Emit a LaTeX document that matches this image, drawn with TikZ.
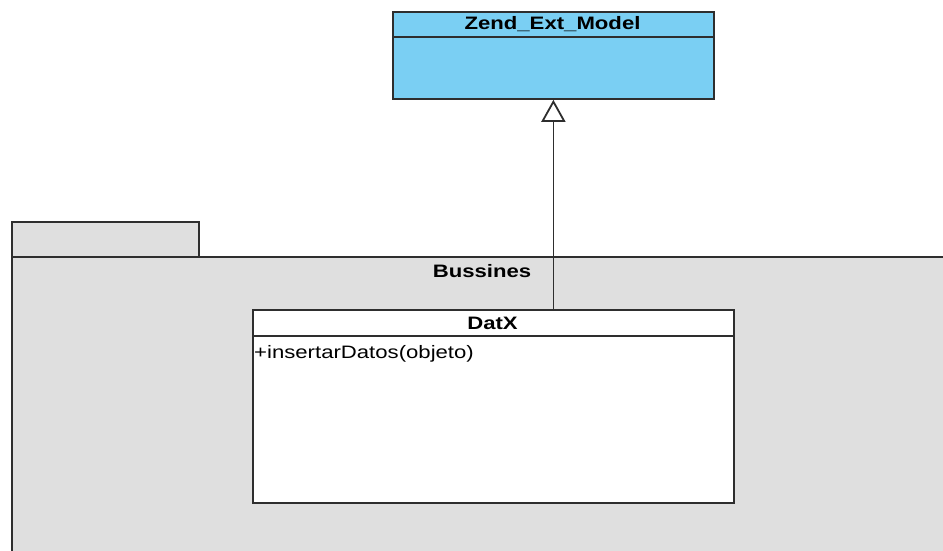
\documentclass[tikz,border=0pt]{standalone}
\usepackage{fontspec}
\setmainfont{Liberation Sans}
\usetikzlibrary{arrows.meta}
\definecolor{classblue}{HTML}{7ACFF3}
\definecolor{pkggray}{HTML}{DFDFDF}
\definecolor{edge}{HTML}{2E2E2E}
\newcommand{\wide}[1]{\scalebox{1.23}[1]{#1}}
\begin{document}
\begin{tikzpicture}[x=1pt,y=-1pt,
  outline/.style={draw=edge,line width=1.8pt},
  classbox/.style={outline,rectangle,inner sep=0pt,anchor=north west},
  title/.style={font=\fontsize{18}{21}\selectfont\bfseries,text=black},
  member/.style={font=\fontsize{18}{21}\selectfont,text=black,anchor=west,inner sep=0pt}]
\useasboundingbox (0,0) rectangle (943,550);
\begin{scope}
\clip (0,0) rectangle (943,550);
% package tab and body
\node[classbox,fill=pkggray,minimum width=187pt,minimum height=35pt] (tab) at (11,221) {};
\node[classbox,fill=pkggray,minimum width=960pt,minimum height=320pt] (pkg) at (11,256) {};
\end{scope}
\node[title] (pkgname) at (482,271) {\wide{Bussines}};
% superclass
\node[classbox,fill=classblue,minimum width=321pt,minimum height=87pt] (zend) at (392,11) {};
\draw[outline] (zend.west |- 0,37) -- (zend.east |- 0,37);
\node[title] (zendname) at (552.5,24) {\wide{Zend\_Ext\_Model}};
% DatX class
\node[classbox,fill=white,minimum width=481pt,minimum height=193pt] (datx) at (252,309) {};
\draw[outline] (datx.west |- 0,336) -- (datx.east |- 0,336);
\node[title] (datxname) at (492.5,323) {\wide{DatX}};
\node[member] (op) at (254,354) {\wide{+insertarDatos(objeto)}};
% generalization
\draw[outline,-{Triangle[open,length=22pt,width=24pt,line width=1.8pt]}] (datx.north -| zend.south) -- (zend.south);
\end{tikzpicture}
\end{document}
